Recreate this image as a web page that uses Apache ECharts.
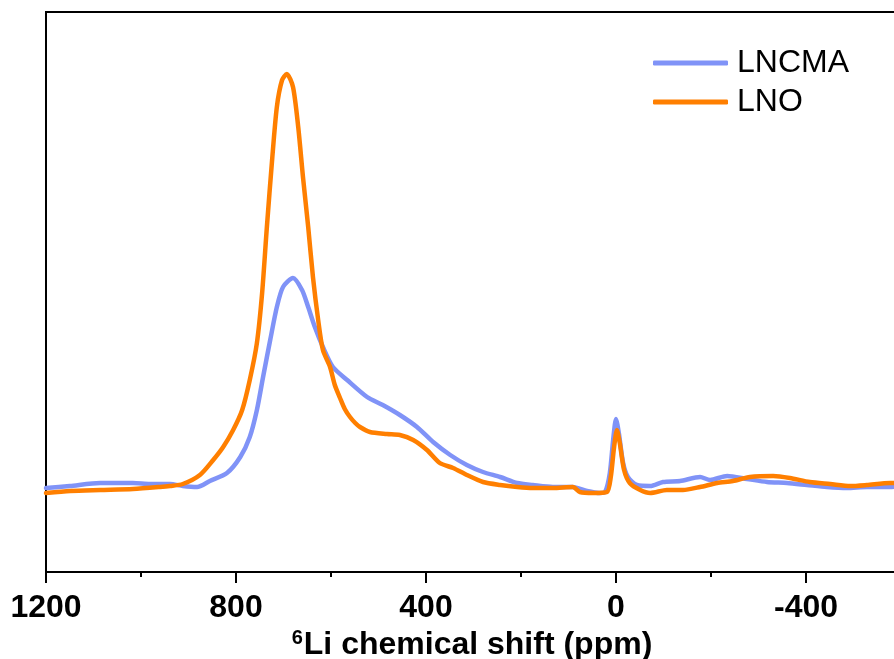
<!DOCTYPE html>
<html>
<head>
<meta charset="utf-8">
<script src="https://cdn.jsdelivr.net/npm/echarts@6/dist/echarts.min.js"></script>
<style>
  html, body { margin: 0; padding: 0; background: #fff; overflow: hidden; width: 894px; height: 659px; }
  #chart { width: 1000px; height: 659px; }
</style>
</head>
<body>
<div id="chart"></div>
<script>
// 6Li MAS NMR spectra: chemical shift (ppm) and intensity (arbitrary units)
const seriesNames = ['LNCMA', 'LNO'];

const lncmaShift = [1200, 1150, 1086, 1017, 981, 939, 912, 882, 855, 819, 791, 771, 756, 743, 728, 714, 701, 680,
  661, 648, 634, 617, 596, 566, 524, 491, 455, 419, 385, 349, 314, 280, 244, 208, 175, 133, 91, 61, 34, 23, 13, 6,
  0, -6, -15, -25, -44, -72, -99, -135, -177, -198, -234, -276, -318, -360, -402, -444, -486, -528, -577, -600];
const lncmaIntensity = [84, 86, 89, 89, 88, 88, 86, 85, 91, 99, 115, 135, 162, 195, 232, 265, 285, 294,
  282, 265, 245, 225, 205, 192, 175, 167, 157, 145, 130, 117, 107, 100, 95, 89, 87, 85, 85, 81, 79, 80, 99, 132,
  153, 139, 109, 95, 87, 86, 90, 91, 95, 92, 96, 93, 90, 89, 87, 85, 84, 85, 85, 86];

const lnoShift = [1200, 1149, 1086, 1017, 960, 939, 912, 876, 848, 827, 806, 787, 771, 756, 745, 735, 724, 714, 703,
  693, 680, 669, 659, 648, 638, 627, 617, 602, 592, 581, 571, 560, 549, 539, 518, 482, 455, 427, 398, 371, 343, 314,
  280, 244, 208, 175, 133, 91, 76, 48, 19, 11, 4, -2, -8, -17, -29, -51, -72, -107, -141, -177, -213, -246, -282,
  -331, -366, -408, -451, -493, -528, -577, -600];
const lnoIntensity = [79, 81, 82, 83, 85, 86, 88, 97, 112, 125, 142, 162, 192, 229, 279, 345, 412, 465, 492,
  498, 485, 445, 395, 345, 295, 252, 222, 205, 187, 174, 163, 155, 149, 145, 140, 138, 137, 132, 122, 109, 104, 97,
  90, 87, 85, 84, 84, 85, 80, 79, 80, 95, 125, 142, 129, 102, 89, 82, 79, 82, 82, 85, 89, 91, 95,
  96, 94, 90, 88, 86, 87, 89, 89];

const xTicks = [1200, 800, 400, 0, -400, -800];

const pair = (xs, ys) => xs.map((x, i) => [x, ys[i]]);

const chart = echarts.init(document.getElementById('chart'), null, { renderer: 'canvas' });
const font = '"Liberation Sans", Arial, Helvetica, sans-serif';

chart.setOption({
  animation: false,
  backgroundColor: '#fff',
  grid: {
    left: 46, right: 4, top: 12, bottom: 87,
    containLabel: false,
    outerBoundsMode: 'none',
    show: true, borderColor: '#000', borderWidth: 2, backgroundColor: 'transparent'
  },
  legend: {
    data: seriesNames,
    orient: 'vertical',
    left: 648, top: 42,
    icon: 'roundRect',
    itemWidth: 75, itemHeight: 5, itemGap: 7,
    textStyle: { fontFamily: font, fontSize: 32, color: '#000', padding: [0, 0, 0, 4] }
  },
  xAxis: {
    type: 'value',
    inverse: true,
    min: -800, max: 1200, interval: 400,
    axisLine: { show: true, onZero: false, lineStyle: { color: '#000', width: 2 } },
    axisTick: { show: true, inside: false, length: 11, lineStyle: { color: '#000', width: 2 } },
    minorTick: { show: true, splitNumber: 2, length: 5, lineStyle: { color: '#000', width: 2 } },
    splitLine: { show: false },
    minorSplitLine: { show: false },
    axisLabel: {
      margin: 20, fontFamily: font, fontSize: 32, fontWeight: 'bold', color: '#000',
      formatter: v => xTicks.includes(v) ? String(v) : ''
    },
    name: '{sup|6}Li chemical shift (ppm)',
    nameLocation: 'middle',
    nameGap: 44,
    nameTextStyle: {
      fontFamily: font, fontSize: 32, fontWeight: 'bold', color: '#000',
      padding: [0, 98, 0, 0],
      rich: {
        sup: { fontFamily: font, fontSize: 20, fontWeight: 'bold', color: '#000', verticalAlign: 'top', padding: [0, 1, 12, 0] }
      }
    }
  },
  yAxis: {
    type: 'value',
    min: 0, max: 560,
    axisLine: { show: false }, axisTick: { show: false }, axisLabel: { show: false },
    splitLine: { show: false }
  },
  series: [
    {
      name: seriesNames[0], type: 'line', data: pair(lncmaShift, lncmaIntensity),
      symbol: 'none', smooth: 0.25,
      lineStyle: { color: '#8093f7', width: 4.5, cap: 'round', join: 'round' },
      itemStyle: { color: '#8093f7' }
    },
    {
      name: seriesNames[1], type: 'line', data: pair(lnoShift, lnoIntensity),
      symbol: 'none', smooth: 0.25,
      lineStyle: { color: '#ff7f00', width: 4.5, cap: 'round', join: 'round' },
      itemStyle: { color: '#ff7f00' }
    }
  ]
});
</script>
</body>
</html>
